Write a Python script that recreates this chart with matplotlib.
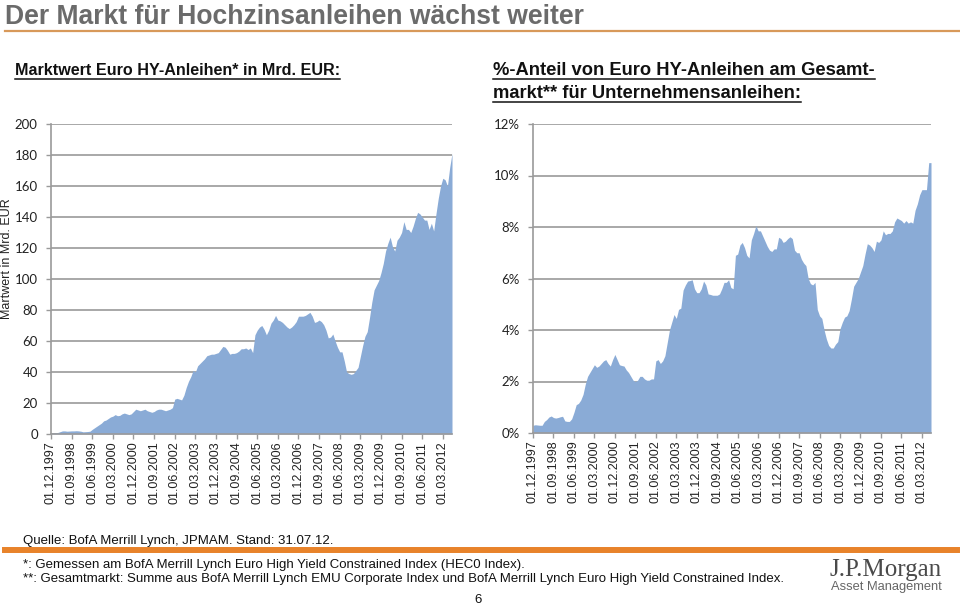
import matplotlib
matplotlib.use("Agg")
import matplotlib.pyplot as plt
from matplotlib.lines import Line2D
import numpy as np

# monthly values, 01.12.1997 .. 01.07.2012
market_value = [
    0.5, 0.6, 0.8, 1.0, 1.5, 2.0, 2.0, 1.8, 1.9, 2.0, 2.0, 2.1,
    2.0, 1.8, 1.4, 1.5, 1.6, 1.8, 3.0, 4.0, 5.0, 6.0, 7.0, 8.5,
    9.0, 10.0, 11.0, 11.5, 12.5, 11.8, 12.0, 13.0, 13.5, 13.0, 12.5, 13.0,
    14.5, 16.0, 15.5, 15.0, 15.5, 16.0, 15.0, 14.5, 14.0, 14.5, 15.5, 16.0,
    16.0, 15.5, 15.0, 15.5, 16.0, 17.0, 22.5, 23.0, 22.5, 22.0, 25.0, 30.0,
    34.0, 37.0, 41.0, 40.0, 44.0, 45.5, 47.0, 48.5, 50.5, 51.0, 51.5, 51.5,
    52.0, 52.5, 54.5, 56.5, 56.0, 54.0, 51.5, 52.0, 52.0, 52.5, 53.5, 55.0,
    55.0, 55.5, 54.5, 55.5, 52.5, 64.0, 67.0, 69.0, 70.0, 67.5, 64.0, 67.0,
    71.5, 73.5, 76.5, 73.5, 73.0, 72.0, 70.5, 69.0, 68.0, 69.0, 70.5, 72.5,
    76.0, 76.0, 76.0, 76.5, 77.5, 78.5, 76.0, 72.0, 72.5, 73.5, 72.5, 70.5,
    67.0, 62.0, 62.5, 64.5, 60.0, 56.0, 53.0, 53.0, 47.0, 40.0, 39.0, 38.5,
    39.0, 41.0, 43.0, 50.0, 57.0, 63.0, 66.0, 75.0, 85.0, 93.0, 96.0, 99.0,
    104.0, 110.0, 118.0, 123.0, 127.0, 121.0, 118.0, 125.0, 127.0, 130.0, 137.0, 132.0,
    132.0, 130.0, 134.0, 139.0, 143.0, 142.0, 140.0, 138.0, 138.0, 132.0, 136.0, 131.0,
    142.0, 152.0, 160.0, 165.0, 164.0, 160.0, 172.0, 181.0,
]

market_share = [
    0.30, 0.32, 0.31, 0.30, 0.30, 0.45, 0.52, 0.62, 0.66, 0.60, 0.58, 0.60,
    0.63, 0.65, 0.47, 0.45, 0.45, 0.55, 0.80, 1.10, 1.15, 1.28, 1.50, 1.90,
    2.20, 2.35, 2.50, 2.65, 2.55, 2.60, 2.70, 2.80, 2.85, 2.70, 2.60, 2.85,
    3.05, 2.85, 2.65, 2.62, 2.60, 2.45, 2.35, 2.20, 2.05, 2.00, 2.05, 2.20,
    2.20, 2.10, 2.05, 2.05, 2.10, 2.10, 2.80, 2.85, 2.70, 2.80, 3.00, 3.50,
    4.00, 4.30, 4.60, 4.45, 4.80, 4.85, 5.55, 5.75, 5.90, 5.92, 5.95, 5.60,
    5.45, 5.45, 5.60, 5.90, 5.75, 5.40, 5.38, 5.35, 5.35, 5.35, 5.40, 5.60,
    5.85, 5.85, 5.95, 5.65, 5.60, 6.90, 6.95, 7.30, 7.40, 7.20, 6.90, 6.80,
    7.50, 7.75, 8.05, 7.85, 7.85, 7.65, 7.45, 7.25, 7.10, 7.05, 7.15, 7.15,
    7.60, 7.55, 7.40, 7.45, 7.55, 7.62, 7.55, 7.10, 7.00, 7.00, 6.75, 6.60,
    6.50, 6.00, 5.80, 5.75, 5.85, 4.80, 4.55, 4.45, 4.00, 3.65, 3.40, 3.30,
    3.30, 3.45, 3.55, 4.05, 4.30, 4.50, 4.55, 4.75, 5.20, 5.70, 5.85, 6.00,
    6.25, 6.50, 6.95, 7.35, 7.30, 7.20, 7.05, 7.45, 7.40, 7.50, 7.85, 7.70,
    7.75, 7.75, 7.85, 8.20, 8.35, 8.30, 8.25, 8.15, 8.25, 8.15, 8.20, 8.15,
    8.65, 8.90, 9.25, 9.45, 9.45, 9.45, 10.50, 10.50,
]

date_labels = [
    "01.12.1997", "01.09.1998", "01.06.1999", "01.03.2000", "01.12.2000",
    "01.09.2001", "01.06.2002", "01.03.2003", "01.12.2003", "01.09.2004",
    "01.06.2005", "01.03.2006", "01.12.2006", "01.09.2007", "01.06.2008",
    "01.03.2009", "01.12.2009", "01.09.2010", "01.06.2011", "01.03.2012",
]
label_step = 9  # months between date labels

left_ticks = [0, 20, 40, 60, 80, 100, 120, 140, 160, 180, 200]
right_ticks = [0, 2, 4, 6, 8, 10, 12]

W, H = 960, 605
FILL = "#8aabd6"
GRID = "#9a9a9a"
ORANGE = "#e8832a"
SANS = ["Liberation Sans", "DejaVu Sans"]
TICKFONT = ["Lato", "DejaVu Sans"]


def fx(x):
    return x / W


def fy(y):
    return 1 - y / H


def style_axes(ax, n, ticks, fmt):
    x = np.arange(n)
    ax.set_xlim(0, n - 1)
    ax.set_ylim(ticks[0], ticks[-1])
    ax.set_yticks(ticks)
    ax.set_yticklabels([fmt(t) for t in ticks], family=TICKFONT, fontsize=9.5,
                       color="#222222")
    ax.set_xticks(x[::label_step][:len(date_labels)])
    ax.set_xticklabels(date_labels, rotation=90, family=SANS, fontsize=9,
                       color="#222222")
    ax.yaxis.grid(True, color=GRID, lw=1.2)
    ax.set_axisbelow(True)
    for s in ["top", "right"]:
        ax.spines[s].set_visible(False)
    for s in ["left", "bottom"]:
        ax.spines[s].set_color(GRID)
        ax.spines[s].set_linewidth(1.2)
    ax.tick_params(axis="both", colors=GRID, length=3.5, width=1.0)
    ax.tick_params(axis="y", pad=6, labelcolor="#222222")
    ax.tick_params(axis="x", pad=2, labelcolor="#222222")


fig = plt.figure(figsize=(W / 100, H / 100), dpi=100)

# left chart
ax1 = fig.add_axes([fx(51), fy(434), fx(452) - fx(51), fy(124) - fy(434)])
ax1.fill_between(np.arange(len(market_value)), market_value, color=FILL, lw=0)
style_axes(ax1, len(market_value), left_ticks, lambda t: f"{t}")
fig.text(fx(7), fy(259), "Martwert in Mrd. EUR", rotation=90, ha="center",
         va="center", family=SANS, fontsize=9, color="#222222")

# right chart
ax2 = fig.add_axes([fx(533), fy(433), fx(931) - fx(533), fy(124) - fy(433)])
ax2.fill_between(np.arange(len(market_share)), market_share, color=FILL, lw=0)
style_axes(ax2, len(market_share), right_ticks, lambda t: f"{t}%")

# title and rules
fig.text(fx(5), fy(24), "Der Markt für Hochzinsanleihen wächst weiter",
         ha="left", va="baseline", family=SANS, fontsize=19.1, weight="bold",
         color="#6b6b6b")
fig.add_artist(Line2D([fx(5), fx(960)], [fy(31), fy(31)], color="#d8995a",
                      lw=1.6))
fig.add_artist(Line2D([fx(5), fx(957)], [fy(550), fy(550)], color=ORANGE,
                      lw=4.3))

subtitles = [
    (15, 75, "Marktwert Euro HY-Anleihen* in Mrd. EUR:", 11.6),
    (493, 75, "%-Anteil von Euro HY-Anleihen am Gesamt-", 13.2),
    (493, 98, "markt** für Unternehmensanleihen:", 13.2),
]
sub_texts = []
for x, y, s, size in subtitles:
    t = fig.text(fx(x), fy(y), s, ha="left", va="baseline", family=SANS,
                 fontsize=size, weight="bold", color="#111111")
    sub_texts.append((t, y))

# footnotes
notes = [
    (23, 544, "Quelle: BofA Merrill Lynch, JPMAM. Stand: 31.07.12."),
    (23, 568, "*: Gemessen am BofA Merrill Lynch Euro High Yield Constrained Index (HEC0 Index)."),
    (23, 582, "**: Gesamtmarkt: Summe aus BofA Merrill Lynch EMU Corporate Index und BofA Merrill Lynch Euro High Yield Constrained Index."),
]
for x, y, s in notes:
    fig.text(fx(x), fy(y), s, ha="left", va="baseline", family=SANS,
             fontsize=9.5, color="#111111")
fig.text(fx(478), fy(603), "6", ha="center", va="baseline", family=SANS,
         fontsize=9.5, color="#111111")

# logo
fig.text(fx(886), fy(576), "J.P.Morgan", ha="center", va="baseline",
         family=["Liberation Serif", "DejaVu Serif"], fontsize=18,
         color="#4a4a4a")
fig.text(fx(886), fy(590), "Asset Management", ha="center", va="baseline",
         family=SANS, fontsize=9.3, color="#666666")

# underline the subtitles
fig.canvas.draw()
renderer = fig.canvas.get_renderer()
for t, y in sub_texts:
    bb = t.get_window_extent(renderer)
    fig.add_artist(Line2D([bb.x0 / W, bb.x1 / W], [fy(y + 4), fy(y + 4)],
                          color="#111111", lw=1.1))

fig.savefig("out.png", dpi=100)
